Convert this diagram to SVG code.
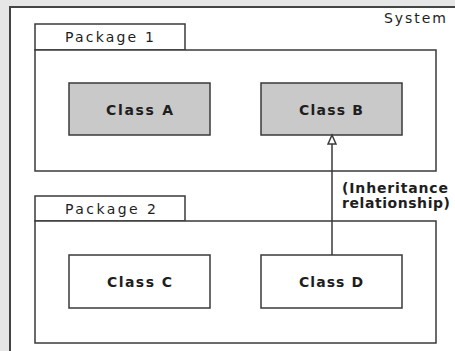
<svg xmlns="http://www.w3.org/2000/svg" width="455" height="351" viewBox="0 0 455 351">
<style>
.frame{fill:#ffffff;stroke:#3a3a3a;stroke-width:1.5}
.cls{stroke:#3a3a3a;stroke-width:1.5}
.t{font-family:"DejaVu Sans","Liberation Sans",Arial,sans-serif;fill:#1e1e1e;font-size:14px}
.b{font-weight:bold}
</style>
<defs>
<marker id="tri" markerWidth="12" markerHeight="10" refX="10" refY="5" orient="auto" markerUnits="userSpaceOnUse">
<path d="M1,1 L10,5 L1,9 Z" fill="#fff" stroke="#3a3a3a" stroke-width="1.5"/>
</marker>
</defs>
<rect x="0" y="0" width="455" height="351" fill="#e6e6e6"/>
<g id="system">
<rect x="10" y="7" width="445" height="344" fill="#ffffff"/>
<path d="M455,7 L10,7 L10,351" fill="none" stroke="#444" stroke-width="2"/>
<text class="t" x="384" y="23" font-size="13.5" textLength="62" lengthAdjust="spacing">System</text>
</g>
<g id="package1">
<rect class="frame" x="35" y="24" width="150" height="26"/>
<rect class="frame" x="35" y="50" width="401" height="121"/>
<text class="t" x="65" y="42" textLength="89" lengthAdjust="spacing">Package 1</text>
</g>
<g id="package2">
<rect class="frame" x="35" y="196" width="150" height="25"/>
<rect class="frame" x="35" y="221" width="401" height="122"/>
<text class="t" x="65" y="214" textLength="91" lengthAdjust="spacing">Package 2</text>
</g>
<g id="classA">
<rect class="cls" x="69" y="83" width="141" height="52" fill="#c9c9c9"/>
<text class="t b" x="106" y="115" textLength="67" lengthAdjust="spacing">Class A</text>
</g>
<g id="classB">
<rect class="cls" x="261" y="83" width="141" height="52" fill="#c9c9c9"/>
<text class="t b" x="299" y="115" textLength="64" lengthAdjust="spacing">Class B</text>
</g>
<g id="classC">
<rect class="cls" x="69" y="255" width="141" height="53" fill="#ffffff"/>
<text class="t b" x="107" y="287" textLength="65" lengthAdjust="spacing">Class C</text>
</g>
<g id="classD">
<rect class="cls" x="261" y="255" width="141" height="53" fill="#ffffff"/>
<text class="t b" x="299" y="287" textLength="64" lengthAdjust="spacing">Class D</text>
</g>
<g id="connectors">
<line x1="332" y1="255" x2="332" y2="135" stroke="#3a3a3a" stroke-width="1.5" marker-end="url(#tri)"/>
<text class="t b" x="342" y="193" font-size="11" textLength="106" lengthAdjust="spacing">(Inheritance</text>
<text class="t b" x="342" y="208" font-size="11" textLength="108" lengthAdjust="spacing">relationship)</text>
</g>
</svg>
